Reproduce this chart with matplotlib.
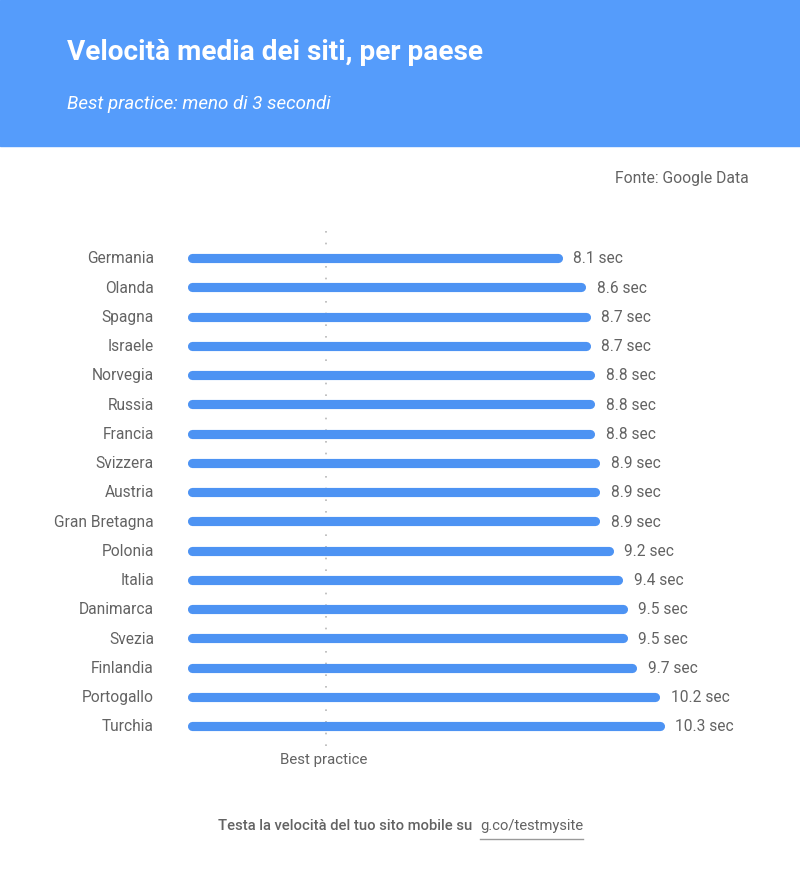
# Velocita media dei siti mobile per paese, ricostruzione del grafico
import matplotlib.pyplot as plt
from matplotlib.patches import Rectangle

paesi = ["Germania", "Olanda", "Spagna", "Israele", "Norvegia", "Russia",
         "Francia", "Svizzera", "Austria", "Gran Bretagna", "Polonia",
         "Italia", "Danimarca", "Svezia", "Finlandia", "Portogallo", "Turchia"]
secondi = [8.1, 8.6, 8.7, 8.7, 8.8, 8.8, 8.8, 8.9, 8.9, 8.9, 9.2,
           9.4, 9.5, 9.5, 9.7, 10.2, 10.3]
best_practice = 3

W, H = 800, 884
blu_header = "#559cfb"
blu_barra = "#4d93f3"
grigio = "#636363"

plt.rcParams['font.family'] = ['Roboto', 'DejaVu Sans']

fig = plt.figure(figsize=(W / 100, H / 100), dpi=100)

# fondo / testi in coordinate pixel
bg = fig.add_axes([0, 0, 1, 1])
bg.set_xlim(0, W)
bg.set_ylim(H, 0)
bg.axis("off")
bg.add_patch(Rectangle((0, 0), W, 146, color=blu_header, zorder=0))
bg.text(67, 53, "Velocità media dei siti, per paese", color="white",
        fontsize=20.2, fontweight="bold", va="center", ha="left")
bg.text(67, 104, "Best practice: meno di 3 secondi", color="white",
        fontsize=13.5, fontstyle="italic", va="center", ha="left")
bg.text(749, 179, "Fonte: Google Data", color=grigio, fontsize=11.3,
        va="center", ha="right")
bg.text(324, 760, "Best practice", color=grigio, fontsize=10.8,
        va="center", ha="center")
bg.text(472, 826, "Testa la velocità del tuo sito mobile su", color=grigio,
        fontsize=10.6, fontweight="medium", va="center", ha="right")
bg.text(480, 826, "g.co/testmysite", color=grigio, fontsize=10.6,
        va="center", ha="left")
bg.plot([480, 583], [839, 839], color="#9a9a9a", lw=1)

# area del grafico: x=0 a 187px, 46.35 px per secondo
px_sec = 46.35
x0 = 187
ax_w = 12 * px_sec
riga = 29.25
top = 258 - riga / 2
ax_h = len(paesi) * riga
ax = fig.add_axes([x0 / W, 1 - (top + ax_h) / H, ax_w / W, ax_h / H])
ax.set_xlim(0, 12)
ax.set_ylim(len(paesi) - 0.5, -0.5)
ax.axis("off")

r = 4.5 / px_sec  # raggio dell'estremita arrotondata, in secondi
for i, (p, v) in enumerate(zip(paesi, secondi)):
    ax.plot([r, v - r], [i, i], color=blu_barra, lw=6.6,
            solid_capstyle="round", zorder=3)
    ax.text(v + 11 / px_sec, i + 0.03, f"{v} sec", color=grigio,
            fontsize=11.2, va="center", ha="left")
    ax.text(-33 / px_sec, i + 0.03, p, color=grigio, fontsize=11.2,
            va="center", ha="right")

ax.axvline(best_practice, ymin=-0.01, ymax=1.03, color="#b8b8b8", lw=1.2,
           ls=(0, (1, 6)), zorder=1, clip_on=False)

fig.savefig("out.png", dpi=100)
